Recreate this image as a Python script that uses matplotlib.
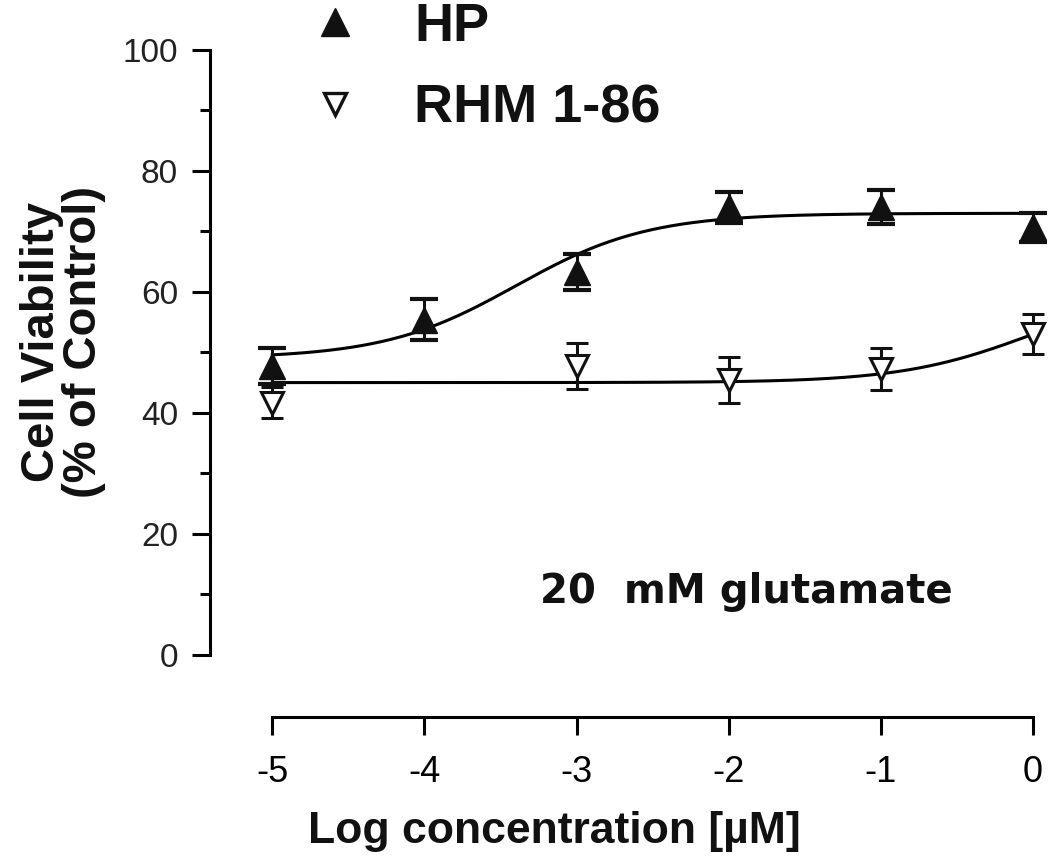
import numpy as np
import matplotlib
matplotlib.use('Agg')
import matplotlib.pyplot as plt
from matplotlib.lines import Line2D
from matplotlib.ticker import MultipleLocator, FixedLocator

plt.rcParams['font.family'] = ['Liberation Sans', 'DejaVu Sans']

# data
log_conc = [-5, -4, -3, -2, -1, 0]
hp_mean = [47.7, 55.4, 63.3, 74.0, 74.1, 70.7]
hp_err = [3.0, 3.4, 3.0, 2.6, 2.8, 2.4]

rhm_conc = [-5, -3, -2, -1, 0]
rhm_mean = [41.7, 47.7, 45.5, 47.2, 53.0]
rhm_err = [2.6, 3.8, 3.8, 3.5, 3.3]

# 4-parameter logistic fits: bottom, top, logEC50, hill
hp_fit = (49.0, 73.0, -3.4, 1.0)
rhm_fit = (45.0, 61.0, 0.0, 1.0)


def logistic(x, p):
    b, t, x0, h = p
    return b + (t - b) / (1 + 10 ** ((x0 - x) * h))


fig = plt.figure(figsize=(10.5, 8.6), dpi=100)
ax = fig.add_axes([210 / 1050, 1 - 717 / 860, (1033 - 210) / 1050, (717 - 50) / 860])

xs = np.linspace(-5, 0, 300)
ax.plot(xs, logistic(xs, hp_fit), 'k-', lw=2.2, zorder=2)
ax.plot(xs, logistic(xs, rhm_fit), 'k-', lw=2.2, zorder=2)

ax.errorbar(log_conc, hp_mean, yerr=hp_err, fmt='^', color='#111111', ms=19,
            elinewidth=2.2, capsize=10, capthick=3, clip_on=False, zorder=3)
ax.errorbar(rhm_conc, rhm_mean, yerr=rhm_err, fmt='v', color='#111111', mfc='white',
            mec='#111111', mew=2.2, ms=16, elinewidth=2.2, capsize=8, capthick=3,
            clip_on=False, zorder=3)

ax.set_xlim(-5.41, 0)
ax.set_ylim(-10.3, 100)

for s in ['top', 'right']:
    ax.spines[s].set_visible(False)
ax.spines['left'].set_bounds(0, 100)
ax.spines['bottom'].set_bounds(-5, 0)
ax.spines['left'].set_linewidth(2.2)
ax.spines['bottom'].set_linewidth(2.2)

ax.set_xticks(log_conc)
ax.set_xticklabels(['-5', '-4', '-3', '-2', '-1', '0'], fontsize=26)
ax.yaxis.set_major_locator(MultipleLocator(20))
ax.yaxis.set_minor_locator(FixedLocator([10, 30, 50, 70, 90]))
ax.tick_params(axis='y', which='major', length=13, width=2.2, labelsize=24, pad=10)
ax.tick_params(axis='y', which='minor', length=7, width=2.2)
ax.tick_params(axis='x', which='major', length=13, width=2.2, pad=14)
for lab in ax.get_yticklabels():
    lab.set_color('#222222')

fig.text(63 / 1050, 1 - 342 / 860, 'Cell Viability\n(% of Control)', rotation=90,
         ha='center', va='center', multialignment='center', fontsize=34,
         fontweight='bold', color='#111111', linespacing=0.95)
fig.text(554 / 1050, 1 - 832 / 860, 'Log concentration [\u00b5M]',
         ha='center', va='center', fontsize=32, fontweight='bold', color='#111111')

ax.text(-3.24, 10.4, '20  mM glutamate', ha='left', va='center', fontsize=29,
        family=['DejaVu Sans'], fontweight='bold', color='#111111')

handles = [Line2D([], [], ls='none', marker='^', color='#111111', ms=20),
           Line2D([], [], ls='none', marker='v', mfc='white', mec='#111111', mew=2.4, ms=16)]
leg = fig.legend(handles, ['HP', 'RHM 1-86'], loc='upper left',
                 bbox_to_anchor=(281 / 1050, 1 + 25 / 860), frameon=False, borderpad=0,
                 prop={'size': 39, 'weight': 'bold'}, handletextpad=0.96,
                 labelspacing=0.58, handlelength=1.0)
for t in leg.get_texts():
    t.set_color('#111111')

fig.savefig('out.png', dpi=100)
